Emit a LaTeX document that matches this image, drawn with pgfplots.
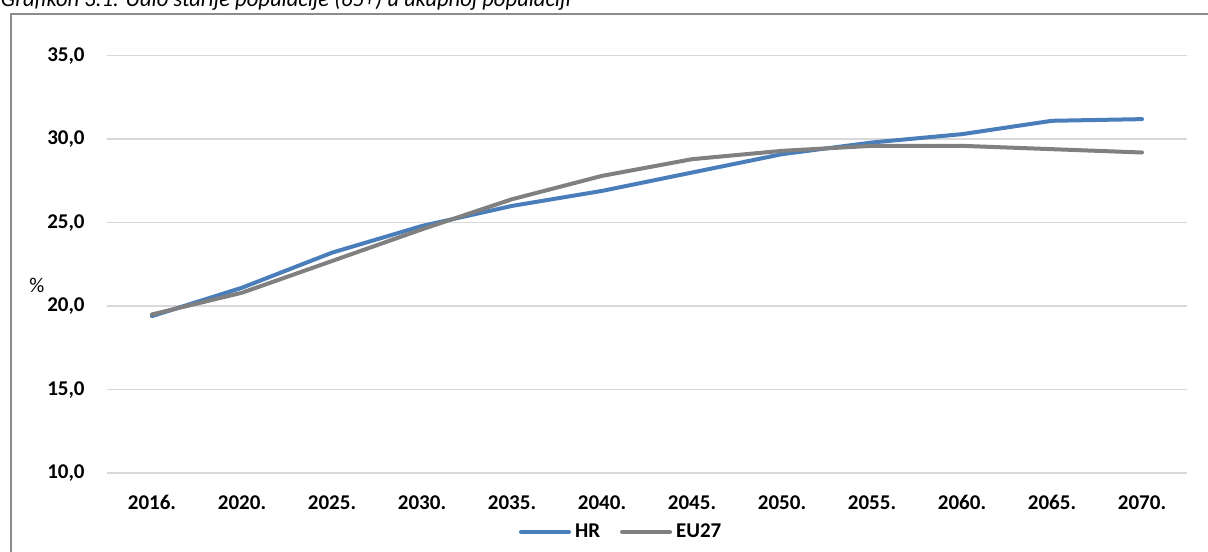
\documentclass[border=0pt]{standalone}
\usepackage{fontspec}
\setmainfont{Carlito}
\usepackage{pgfplots}
\pgfplotsset{compat=1.18}
\definecolor{hrblue}{HTML}{4A7EBB}
\definecolor{eugray}{HTML}{808080}
\definecolor{gridgray}{HTML}{D9D9D9}
\definecolor{framegray}{HTML}{8C8C8C}
\begin{document}
\begin{tikzpicture}[x=1pt,y=1pt]
\useasboundingbox (0,0) rectangle (604,275.5);
\draw[framegray, line width=1pt] (5.5,-5) -- (5.5,268.5) -- (610,268.5);
\node[anchor=base west, inner sep=0, font=\fontsize{11.3}{13}\selectfont\itshape] at (0.3,272) {Grafikon 3.1. Udio starije populacije (65+) u ukupnoj populaciji};
\node[font=\fontsize{10.5}{12}\selectfont] at (18.5,133) {\%};
\begin{axis}[at={(53.5pt,39pt)}, anchor=south west, scale only axis,
  width=540pt, height=208.65pt,
  xmin=-0.5, xmax=11.5, ymin=10, ymax=35,
  ytick={10,15,20,25,30,35}, xtick={0,...,11},
  xticklabels={2016.,2020.,2025.,2030.,2035.,2040.,2045.,2050.,2055.,2060.,2065.,2070.},
  axis line style={draw=none}, major tick length=0pt,
  ymajorgrids, major grid style={gridgray, line width=0.75pt},
  tick label style={font=\fontsize{10.5}{12}\selectfont\bfseries, inner sep=0pt},
  yticklabel style={anchor=east, xshift=-11pt},
  xticklabel style={anchor=north, yshift=-11pt},
  /pgf/number format/.cd, fixed, fixed zerofill, precision=1, use comma, assume math mode=true, /pgfplots/.cd,
  legend columns=2,
  legend style={at={(axis description cs:0.477,-0.141)}, anchor=center, draw=none, fill=none,
    font=\fontsize{10.5}{12}\selectfont\bfseries, inner sep=0pt,
    /tikz/every even column/.append style={column sep=8pt}},
  legend image code/.code={\draw[#1, line width=2pt] (0pt,0pt) -- (24pt,0pt);},
  every axis plot/.append style={line width=2pt, line cap=round, line join=round, mark=none},
]
\addplot[hrblue] coordinates {(0,19.4) (1,21.1) (2,23.2) (3,24.8) (4,26.0) (5,26.9) (6,28.0) (7,29.1) (8,29.8) (9,30.3) (10,31.1) (11,31.2)};
\addlegendentry{HR}
\addplot[eugray] coordinates {(0,19.5) (1,20.8) (2,22.7) (3,24.6) (4,26.4) (5,27.8) (6,28.8) (7,29.3) (8,29.6) (9,29.6) (10,29.4) (11,29.2)};
\addlegendentry{EU27}
\end{axis}
\end{tikzpicture}
\end{document}
